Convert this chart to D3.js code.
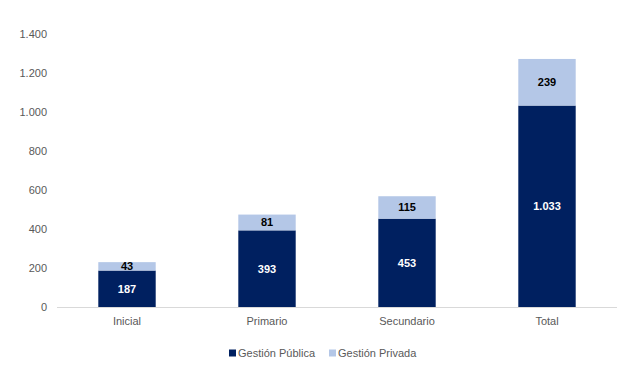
<!DOCTYPE html>
<html>
<head>
<meta charset="utf-8">
<script src="https://cdn.jsdelivr.net/npm/d3@7"></script>
<style>
  body { margin: 0; background: #fff; }
  svg { display: block; font-family: "Liberation Sans", Arial, sans-serif; }
</style>
</head>
<body>
<div id="chart"></div>
<script>
// data
const categories = ["Inicial", "Primario", "Secundario", "Total"];
const publica = [187, 393, 453, 1033];
const privada = [43, 81, 115, 239];
const seriesNames = ["Gestión Pública", "Gestión Privada"];
const yTicks = [0, 200, 400, 600, 800, 1000, 1200, 1400];

const W = 637, H = 370;
const colors = ["#002060", "#b4c7e7"];
const fmt = d3.formatLocale({ decimal: ",", thousands: ".", grouping: [3], currency: ["", ""] }).format(",d");

const svg = d3.select("#chart").append("svg")
    .attr("width", W).attr("height", H);

const x = d3.scaleBand().domain(categories).range([57, 617]).paddingInner(0.59).paddingOuter(0.295);
const y = d3.scaleLinear().domain([0, 1400]).range([307, 34]);

// y tick labels (no axis line, no gridlines)
svg.append("g").selectAll("text").data(yTicks).join("text")
    .attr("x", 47).attr("y", d => y(d)).attr("dy", "0.35em")
    .attr("text-anchor", "end")
    .attr("font-size", 11).attr("fill", "#595959")
    .text(d => fmt(d));

// stacked bars
const rows = categories.map((c, i) => ({ cat: c, pub: publica[i], priv: privada[i] }));
const stack = d3.stack().keys(["pub", "priv"])(rows);

const layers = svg.append("g").selectAll("g").data(stack).join("g")
    .attr("fill", (d, i) => colors[i]);
layers.selectAll("rect").data(d => d).join("rect")
    .attr("x", d => x(d.data.cat))
    .attr("width", x.bandwidth())
    .attr("y", d => y(d[1]))
    .attr("height", d => y(d[0]) - y(d[1]));

// data labels
stack.forEach((layer, li) => {
    svg.append("g").selectAll("text").data(layer).join("text")
        .attr("x", d => x(d.data.cat) + x.bandwidth() / 2)
        .attr("y", d => (y(d[0]) + y(d[1])) / 2)
        .attr("dy", "0.35em")
        .attr("text-anchor", "middle")
        .attr("font-size", 11).attr("font-weight", "bold")
        .attr("fill", li === 0 ? "#ffffff" : "#000000")
        .text(d => fmt(d[1] - d[0]));
});

// baseline
svg.append("line")
    .attr("x1", 57).attr("x2", 617)
    .attr("y1", y(0) + 0.5).attr("y2", y(0) + 0.5)
    .attr("stroke", "#d9d9d9");

// x axis labels
svg.append("g").selectAll("text").data(categories).join("text")
    .attr("x", d => x(d) + x.bandwidth() / 2)
    .attr("y", 321).attr("dy", "0.35em")
    .attr("text-anchor", "middle")
    .attr("font-size", 11).attr("fill", "#595959")
    .text(d => d);

// legend
const legend = svg.append("g").attr("transform", "translate(229, 353)");
const legendX = [0, 100];
seriesNames.forEach((name, i) => {
    const g = legend.append("g").attr("transform", `translate(${legendX[i]}, 0)`);
    g.append("rect").attr("x", 0).attr("y", -3.5).attr("width", 7).attr("height", 7)
        .attr("fill", colors[i]);
    g.append("text").attr("x", 9).attr("y", 0).attr("dy", "0.35em")
        .attr("font-size", 11).attr("fill", "#595959")
        .text(name);
});
</script>
</body>
</html>
